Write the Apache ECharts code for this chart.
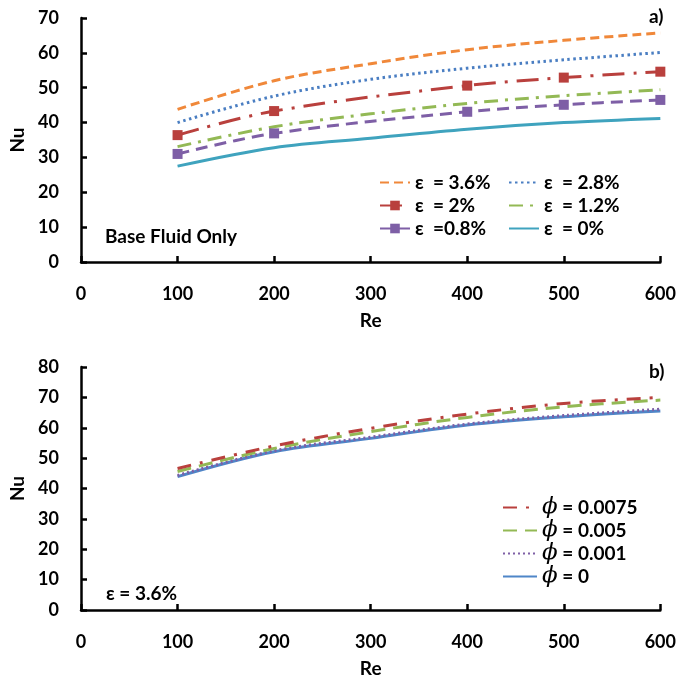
<!DOCTYPE html>
<html><head><meta charset="utf-8">
<script src="https://cdn.jsdelivr.net/npm/echarts@6/dist/echarts.min.js"></script>
<style>html,body{margin:0;padding:0;background:#fff}#c{width:679px;height:679px}</style>
</head><body><div id="c"></div>
<script>
// ---- Data (top chart a) ----
var reFull = [100, 200, 300, 400, 500, 600];
var reMarked = [100, 200, 400, 500, 600];
var eps36 = [43.8, 52.0, 56.9, 60.9, 63.6, 65.7];
var eps28 = [40.0, 47.6, 52.4, 55.6, 58.0, 60.1];
var eps20 = [36.4, 43.3, 50.6, 52.9, 54.6];
var eps12 = [33.1, 38.8, 42.5, 45.5, 47.7, 49.4];
var eps08 = [31.0, 36.9, 43.1, 45.1, 46.5];
var eps00 = [27.5, 32.8, 35.5, 38.1, 40.0, 41.2];
// ---- Data (bottom chart b) ----
var phi0075 = [46.6, 54.0, 59.8, 64.5, 68.0, 70.0];
var phi005 = [45.6, 53.2, 58.7, 63.4, 66.9, 69.1];
var phi001 = [44.3, 52.4, 56.9, 61.2, 64.0, 66.1];
var phi0 = [43.9, 52.1, 56.5, 60.9, 63.6, 65.5];
var xTicks = [0, 600, 100];
var yTicksA = [0, 70, 10];
var yTicksB = [0, 80, 10];

function pairs(xs, ys) { return xs.map(function (x, i) { return [x, ys[i]]; }); }

var FONT = 'Lato';
var C = { orange: '#F0883A', blue: '#4A7EC2', red: '#B9403D', green: '#93B955', purple: '#7E5FA6', teal: '#3FA3BE', blue2: '#4F86C8' };

function xAx(gi) {
  return {
    type: 'value', gridIndex: gi, min: xTicks[0], max: xTicks[1], interval: xTicks[2],
    name: 'Re', nameLocation: 'middle', nameGap: 49,
    nameTextStyle: { fontFamily: FONT, fontWeight: 'bold', fontSize: 19, color: '#000' },
    axisLine: { lineStyle: { color: '#000', width: 2.5 } },
    axisTick: { inside: true, length: 6, lineStyle: { color: '#000', width: 2.5 } },
    axisLabel: { fontFamily: FONT, fontWeight: 'bold', fontSize: 18, color: '#000', margin: 23 },
    splitLine: { show: false }
  };
}
function yAx(gi, t) {
  return {
    type: 'value', gridIndex: gi, min: t[0], max: t[1], interval: t[2],
    name: 'Nu', nameLocation: 'middle', nameGap: 48, nameRotate: 90,
    nameTextStyle: { fontFamily: FONT, fontWeight: 'bold', fontSize: 19, color: '#000' },
    axisLine: { show: true, lineStyle: { color: '#000', width: 2.5 } },
    axisTick: { show: true, inside: true, length: 6, lineStyle: { color: '#000', width: 2.5 } },
    axisLabel: { fontFamily: FONT, fontWeight: 'bold', fontSize: 18, color: '#000', margin: 22 },
    splitLine: { show: false }
  };
}
function ser(name, gi, xs, ys, color, type, sym) {
  return {
    name: name, type: 'line', xAxisIndex: gi, yAxisIndex: gi,
    data: pairs(xs, ys), smooth: 0.35,
    symbol: sym ? 'rect' : 'none', symbolSize: 10, showSymbol: !!sym,
    itemStyle: { color: color },
    lineStyle: { color: color, width: 3, type: type, cap: 'butt' },
    emphasis: { disabled: true }, animation: false
  };
}
var legText = { fontFamily: FONT, fontWeight: 'bold', fontSize: 19, color: '#000',
  rich: { p: { fontFamily: 'DejaVu Serif', fontStyle: 'italic', fontWeight: 'normal', fontSize: 23, color: '#000' } } };
function li(name) { return { name: name, itemStyle: { opacity: 0 } }; }

var option = {
  backgroundColor: '#fff',
  animation: false,
  grid: [
    { left: 81, right: 17, top: 18, height: 244 },
    { left: 81, right: 17, top: 367, height: 244 }
  ],
  xAxis: [xAx(0), xAx(1)],
  yAxis: [yAx(0, yTicksA), yAx(1, yTicksB)],
  legend: [
    { orient: 'vertical', left: 374, top: 168, itemGap: 4, itemWidth: 30, itemHeight: 12,
      data: [li('ε  = 3.6%'), 'ε  = 2%', 'ε  =0.8%'], textStyle: legText },
    { orient: 'vertical', left: 503, top: 168, itemGap: 4, itemWidth: 30, itemHeight: 12,
      data: [li('ε  = 2.8%'), li('ε  = 1.2%'), li('ε  = 0%')], textStyle: legText },
    { orient: 'vertical', left: 497, top: 491, itemGap: 0, itemWidth: 34, itemHeight: 14,
      data: [li('p0075'), li('p005'), li('p001'), li('p0')], textStyle: legText,
      formatter: function (n) {
        var m = { p0075: '0.0075', p005: '0.005', p001: '0.001', p0: '0' };
        return '{p|ϕ} = ' + m[n];
      } }
  ],
  graphic: [
    { type: 'text', left: 649, top: 7, style: { text: 'a)', font: 'bold 19px Lato', fill: '#000' } },
    { type: 'text', left: 105, top: 227, style: { text: 'Base Fluid Only', font: 'bold 19px Lato', fill: '#000' } },
    { type: 'text', left: 649, top: 362, style: { text: 'b)', font: 'bold 19px Lato', fill: '#000' } },
    { type: 'text', left: 106, top: 584, style: { text: 'ε = 3.6%', font: 'bold 19px Lato', fill: '#000' } }
  ],
  series: [
    ser('ε  = 0%', 0, reFull, eps00, C.teal, 'solid', false),
    ser('ε  =0.8%', 0, reMarked, eps08, C.purple, [12, 7], true),
    ser('ε  = 1.2%', 0, reFull, eps12, C.green, [14, 7, 3, 7], false),
    ser('ε  = 2%', 0, reMarked, eps20, C.red, [22, 9, 3, 9], true),
    ser('ε  = 2.8%', 0, reFull, eps28, C.blue, [2.5, 3.5], false),
    ser('ε  = 3.6%', 0, reFull, eps36, C.orange, [9, 5], false),
    ser('p0', 1, reFull, phi0, C.blue2, 'solid', false),
    ser('p001', 1, reFull, phi001, C.purple, [2, 3], false),
    ser('p005', 1, reFull, phi005, C.green, [14, 8], false),
    ser('p0075', 1, reFull, phi0075, C.red, [14, 9, 3, 9], false)
  ]
};
var chart = echarts.init(document.getElementById('c'), null, { renderer: 'canvas' });
chart.setOption(option);
</script></body></html>
